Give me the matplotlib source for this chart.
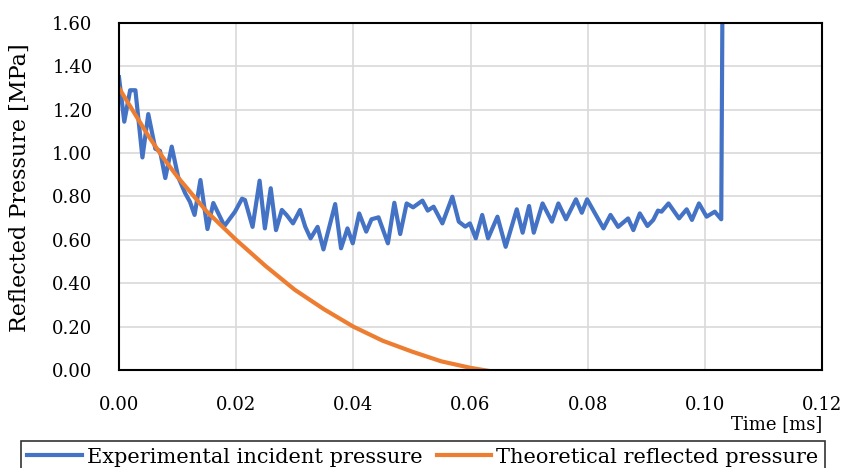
import matplotlib
matplotlib.use("Agg")
import matplotlib.pyplot as plt

# experimental curve
exp_time = [0.0000, 0.0009, 0.0019, 0.0028, 0.0040, 0.0050, 0.0062, 0.0070, 0.0079, 0.0090,
            0.0101, 0.0113, 0.0121, 0.0129, 0.0139, 0.0151, 0.0161, 0.0180, 0.0198, 0.0210,
            0.0215, 0.0228, 0.0240, 0.0249, 0.0259, 0.0268, 0.0278, 0.0286, 0.0297, 0.0309,
            0.0318, 0.0327, 0.0339, 0.0349, 0.0369, 0.0379, 0.0390, 0.0399, 0.0410, 0.0422,
            0.0431, 0.0443, 0.0459, 0.0470, 0.0480, 0.0491, 0.0502, 0.0518, 0.0527, 0.0537,
            0.0552, 0.0569, 0.0580, 0.0591, 0.0599, 0.0609, 0.0620, 0.0630, 0.0646, 0.0660,
            0.0679, 0.0689, 0.0700, 0.0708, 0.0723, 0.0739, 0.0750, 0.0763, 0.0780, 0.0790,
            0.0799, 0.0827, 0.0839, 0.0852, 0.0869, 0.0878, 0.0889, 0.0902, 0.0912, 0.0920,
            0.0926, 0.0938, 0.0956, 0.0969, 0.0978, 0.0990, 0.1003, 0.1017, 0.1028, 0.1030]
exp_pressure = [1.35, 1.145, 1.29, 1.29, 0.98, 1.18, 1.02, 1.01, 0.885, 1.03,
                0.89, 0.815, 0.776, 0.715, 0.876, 0.65, 0.77, 0.664, 0.73, 0.79,
                0.784, 0.66, 0.873, 0.653, 0.838, 0.645, 0.738, 0.715, 0.676, 0.738,
                0.66, 0.607, 0.66, 0.556, 0.765, 0.561, 0.653, 0.584, 0.722, 0.638,
                0.695, 0.704, 0.584, 0.771, 0.627, 0.768, 0.75, 0.781, 0.735, 0.753,
                0.676, 0.799, 0.684, 0.661, 0.676, 0.607, 0.715, 0.607, 0.707, 0.568,
                0.741, 0.633, 0.756, 0.633, 0.768, 0.684, 0.768, 0.695, 0.787, 0.725,
                0.787, 0.653, 0.715, 0.66, 0.699, 0.645, 0.722, 0.664, 0.692, 0.735,
                0.73, 0.768, 0.699, 0.741, 0.692, 0.768, 0.707, 0.73, 0.695, 1.65]

# theoretical reflected pressure
theo_time = [0.0, 0.0025, 0.005, 0.0075, 0.01, 0.0125, 0.015, 0.0175, 0.02, 0.025, 0.03,
             0.035, 0.04, 0.045, 0.05, 0.055, 0.06, 0.0633]
theo_pressure = [1.30, 1.19, 1.08, 0.98, 0.89, 0.81, 0.73, 0.665, 0.60, 0.48, 0.37,
                 0.28, 0.20, 0.135, 0.085, 0.04, 0.01, -0.005]

x_ticks = [0.00, 0.02, 0.04, 0.06, 0.08, 0.10, 0.12]
y_ticks = [0.0, 0.2, 0.4, 0.6, 0.8, 1.0, 1.2, 1.4, 1.6]

plt.rcParams["font.family"] = ["DejaVu Serif"]

fig = plt.figure(figsize=(8.43, 4.68), dpi=100)
ax = fig.add_axes([119 / 843, 1 - 370 / 468, 703 / 843, 347 / 468])

ax.plot(exp_time, exp_pressure, color="#4472C4", lw=3, solid_joinstyle="round",
        label="Experimental incident pressure")
ax.plot(theo_time, theo_pressure, color="#ED7D31", lw=3, solid_joinstyle="round",
        label="Theoretical reflected pressure")

ax.set_xlim(0, 0.12)
ax.set_ylim(0, 1.6)
ax.set_xticks(x_ticks)
ax.set_yticks(y_ticks)
ax.set_xticklabels([f"{v:.2f}" for v in x_ticks])
ax.set_yticklabels([f"{v:.2f}" for v in y_ticks])
ax.tick_params(length=0, labelsize=13, pad=19)
ax.grid(True, color="#D9D9D9", lw=1.2)
ax.set_axisbelow(True)
for s in ax.spines.values():
    s.set_color("black")
    s.set_linewidth(1.5)

ax.text(1.0, -0.156, "Time [ms]", transform=ax.transAxes, ha="right", va="center", fontsize=13)
fig.text(20 / 843, 1 - 188 / 468, "Reflected Pressure [MPa]", rotation=90,
         ha="center", va="center", fontsize=16)

leg = fig.legend(loc="upper center", bbox_to_anchor=(423 / 843, 1 - 431 / 468), ncol=2,
                 fontsize=15, frameon=True, fancybox=False, edgecolor="black",
                 handlelength=2.6, handletextpad=0.25, columnspacing=0.7,
                 borderpad=0.3)
leg.get_frame().set_linewidth(1.2)

fig.savefig("out.png", dpi=100)
